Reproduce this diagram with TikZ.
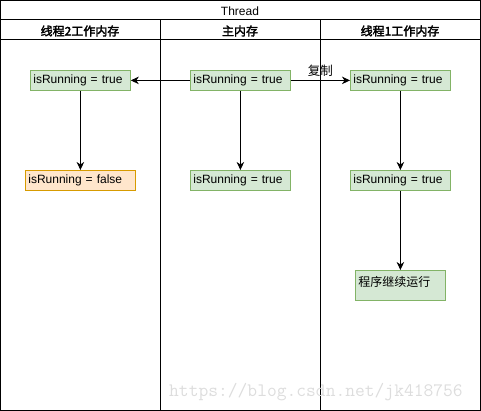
\documentclass[tikz,border=0pt]{standalone}
\usepackage{fontspec}
\setmainfont{Liberation Sans}
\newfontfamily\cjk[AutoFakeBold=2.5]{Noto Sans CJK SC}
\usetikzlibrary{arrows.meta}
\definecolor{gfill}{HTML}{D5E8D4}
\definecolor{gline}{HTML}{82B366}
\definecolor{ofill}{HTML}{FFE6CC}
\definecolor{oline}{HTML}{D79B00}
\definecolor{wm}{HTML}{DDDDDD}
\tikzset{
  box/.style={draw=gline, fill=gfill, line width=0.8pt, inner xsep=3pt, inner ysep=0pt,
    minimum height=20pt, align=left, font=\fontsize{12}{14}\selectfont, anchor=north west},
  obox/.style={box, draw=oline, fill=ofill},
  arr/.style={line width=0.9pt, -{Stealth[length=8pt,width=7.5pt,inset=2.5pt]}},
  frame/.style={line width=1pt},
  hdr/.style={font=\cjk\bfseries\fontsize{12}{14}\selectfont, inner sep=0pt},
}
\begin{document}
\begin{tikzpicture}[x=1pt,y=-1pt]
\useasboundingbox (0,0) rectangle (481,411);
% frame
\draw[frame] (0.5,0.5) rectangle (480.5,410.5);
\draw[frame] (0.5,20) -- (480.5,20);
\draw[frame] (0.5,40) -- (480.5,40);
\draw[frame] (160.5,20) -- (160.5,410.5);
\draw[frame] (320.5,20) -- (320.5,410.5);
\node[inner sep=0pt, font=\fontsize{12}{14}\selectfont] (title) at (240,11) {Thread};
\node[hdr] (h1) at (80,31) {线程2工作内存};
\node[hdr] (h2) at (240,31) {主内存};
\node[hdr] (h3) at (400,31) {线程1工作内存};
% watermark
\node[text=wm, font=\ttfamily\fontsize{19}{20}\selectfont, inner sep=0pt, anchor=base west] (wmark) at (169,396) {https://blog.csdn.net/jk418756};
% boxes
\node[box, text width=94pt] (l1) at (30,70) {isRunning = true};
\node[box, text width=94pt] (m1) at (190,70) {isRunning = true};
\node[box, text width=94pt] (r1) at (350,70) {isRunning = true};
\node[obox, text width=104pt] (l2) at (25,170) {isRunning = false};
\node[box, text width=94pt] (m2) at (190,170) {isRunning = true};
\node[box, text width=94pt] (r2) at (350,170) {isRunning = true};
\node[box, text width=84pt, font=\cjk\fontsize{12}{14}\selectfont, inner ysep=3pt, text height=13pt, text depth=11pt, minimum height=30pt] (r3) at (355,270) {程序继续运行};
% arrows
\draw[arr] (m1) -- (l1);
\draw[arr] (m1) -- node[above, pos=0.5, inner sep=3pt, font=\cjk\fontsize{12.5}{14}\selectfont] (copy) {复制} (r1);
\draw[arr] (l1) -- (l1 |- l2.north);
\draw[arr] (m1) -- (m2);
\draw[arr] (r1) -- (r2);
\draw[arr] (r2) -- (r2 |- r3.north);
\end{tikzpicture}
\end{document}
